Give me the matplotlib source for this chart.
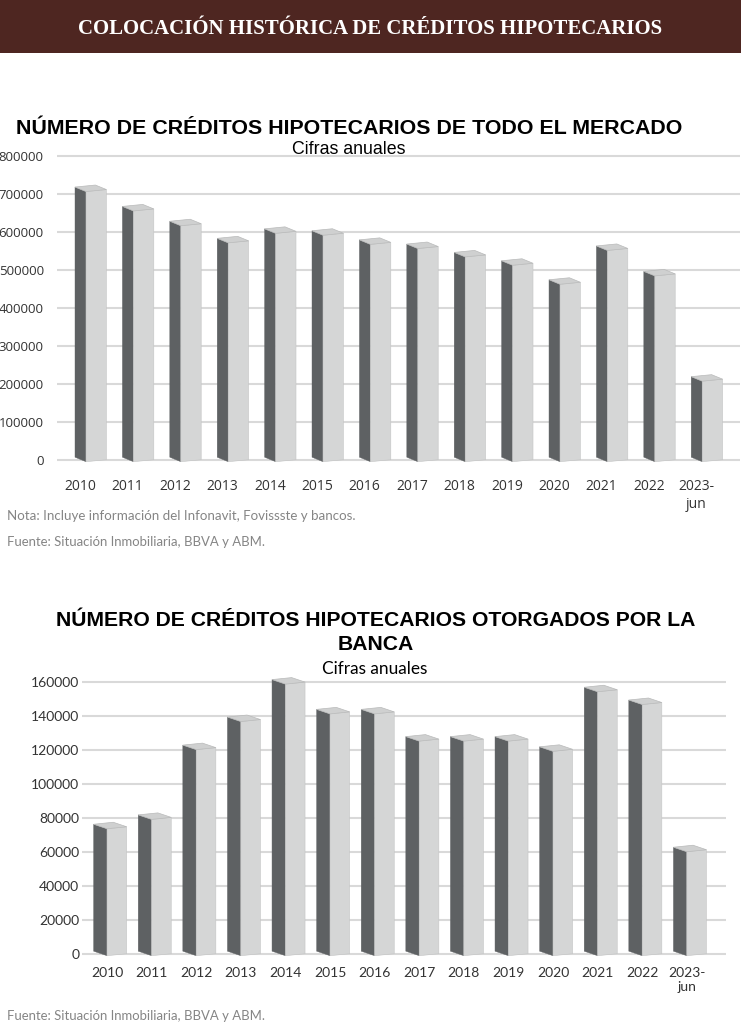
import matplotlib
matplotlib.use("Agg")
import matplotlib.pyplot as plt
from matplotlib.patches import Polygon, Rectangle

# ---------------- data ----------------
years = ["2010", "2011", "2012", "2013", "2014", "2015", "2016", "2017",
         "2018", "2019", "2020", "2021", "2022", "2023-\njun"]
mercado = [715000, 664000, 625000, 580000, 605000, 600000, 576000,
           565000, 543000, 521000, 471000, 560000, 493000, 216000]
banca = [75500, 81000, 122000, 138500, 160500, 143000, 143000,
         127000, 127000, 127000, 121000, 156000, 148500, 62000]
mercado_ticks = [0, 100000, 200000, 300000, 400000, 500000, 600000, 700000, 800000]
banca_ticks = [0, 20000, 40000, 60000, 80000, 100000, 120000, 140000, 160000]

title_main = "COLOCACIÓN HISTÓRICA DE CRÉDITOS HIPOTECARIOS"
title_1 = "NÚMERO DE CRÉDITOS HIPOTECARIOS DE TODO EL MERCADO"
title_2a = "NÚMERO DE CRÉDITOS HIPOTECARIOS OTORGADOS POR LA"
title_2b = "BANCA"
subtitle = "Cifras anuales"
nota = "Nota: Incluye información del Infonavit, Fovissste y bancos."
fuente = "Fuente: Situación Inmobiliaria, BBVA y ABM."

DARK = "#5e6163"
LIGHT = "#d5d6d6"
TOPC = "#cfd0d0"
GRID = "#d9d9d9"
BROWN = "#4e2621"
NOTE = "#858585"

W, H = 741, 1024
fig = plt.figure(figsize=(W / 100, H / 100), dpi=100)
renderer = fig.canvas.get_renderer()


def ax_px(left, top, right, bottom):
    return fig.add_axes([left / W, 1 - bottom / H, (right - left) / W, (bottom - top) / H])


def fit(t, width_px):
    w = t.get_window_extent(renderer).width
    t.set_fontsize(t.get_fontsize() * width_px / w)
    return t


def draw_box(ax, xj, v, wd, wl, ppu, rl=4.5, rr=2.0, bj=1.7):
    u = 1.0 / ppu
    jt = v - (rl + rr) / 2 * u
    jb = -bj * u
    lt, rt, bt = jt + rl * u, jt + rr * u, jt + (rl + rr) * u
    lb, rb = jb + rl * u, jb + rr * u
    ax.add_patch(Polygon([(xj - wd, lb), (xj, jb), (xj, jt), (xj - wd, lt)],
                         closed=True, fc=DARK, ec=DARK, lw=0.3, zorder=3))
    ax.add_patch(Polygon([(xj, jb), (xj + wl, rb), (xj + wl, rt), (xj, jt)],
                         closed=True, fc=LIGHT, ec="#c4c5c5", lw=0.4, zorder=3))
    ax.add_patch(Polygon([(xj - wd, lt), (xj, jt), (xj + wl, rt), (xj - wd + wl, bt)],
                         closed=True, fc=TOPC, ec="#b9baba", lw=0.5, zorder=4))


def style(ax, ticks, fam, fs, pad_y, pad_x):
    for s in ax.spines.values():
        s.set_visible(False)
    ax.set_yticks(ticks, labels=[str(t) for t in ticks])
    ax.grid(axis="y", color=GRID, lw=1.5)
    ax.set_axisbelow(True)
    ax.tick_params(axis="y", length=0, pad=pad_y, labelsize=fs, labelcolor="#333333")
    ax.tick_params(axis="x", length=0, pad=pad_x, labelsize=fs, labelcolor="#333333")
    for lab in ax.get_yticklabels() + ax.get_xticklabels():
        lab.set_fontfamily(fam)


# ---------------- banner ----------------
fig.add_artist(Rectangle((0, 1 - 53 / H), 1, 53 / H, transform=fig.transFigure,
                         fc=BROWN, ec="none"))
t = fig.text(370 / W, 1 - 29 / H, title_main, color="white", ha="center", va="center",
             fontfamily="Liberation Serif", fontweight="bold", fontsize=14)
fit(t, 584)

# ---------------- chart 1 ----------------
ppu1 = 304 / 800000
ax1 = ax_px(57, 156 - 20000 * ppu1, 740, 460 + 40000 * ppu1)
ax1.set_xlim(-0.612, 13.797)
ax1.set_ylim(-40000, 820000)
for i, v in enumerate(mercado):
    draw_box(ax1, i, v, 0.232, 0.43, ppu1)
ax1.set_xticks([i - 0.12 for i in range(len(years))], labels=years)
style(ax1, mercado_ticks, "Open Sans", 9.5, 9.5, 3)
for lab in ax1.get_xticklabels():
    lab.set_fontsize(10)

t = fig.text(349 / W, 1 - 128 / H, title_1, ha="center", va="center",
             fontfamily="Liberation Sans", fontweight="bold", fontsize=15, color="black")
fit(t, 668)
t = fig.text(349 / W, 1 - 150 / H, subtitle, ha="center", va="center",
             fontfamily="Liberation Sans", fontsize=12, color="black")
fit(t, 114)

t = fig.text(7 / W, 1 - 516 / H, nota, ha="left", va="center",
             fontfamily="Lato", fontsize=9, color=NOTE)
fit(t, 350)
t = fig.text(7 / W, 1 - 542 / H, fuente, ha="left", va="center",
             fontfamily="Lato", fontsize=9, color=NOTE)
fit(t, 260)

# ---------------- chart 2 ----------------
ppu2 = (954 - 681.7) / 160000
ax2 = ax_px(82, 681.7 - 10000 * ppu2, 726, 954 + 5000 * ppu2)
ax2.set_xlim(-0.561, 13.879)
ax2.set_ylim(-5000, 170000)
for i, v in enumerate(banca):
    draw_box(ax2, i, v, 0.30, 0.44, ppu2)
ax2.set_xticks(list(range(len(years))), labels=years)
style(ax2, banca_ticks, "Lato", 10, 2, 3)

t1 = fig.text(376 / W, 1 - 620 / H, title_2a, ha="center", va="center",
              fontfamily="Liberation Sans", fontweight="bold", fontsize=15, color="black")
fit(t1, 642)
fig.text(376 / W, 1 - 645 / H, title_2b, ha="center", va="center",
         fontfamily="Liberation Sans", fontweight="bold", fontsize=t1.get_fontsize(),
         color="black")
t = fig.text(375 / W, 1 - 669 / H, subtitle, ha="center", va="center",
             fontfamily="Lato", fontsize=12, color="black")
fit(t, 105)

t = fig.text(7 / W, 1 - 1016 / H, fuente, ha="left", va="center",
             fontfamily="Lato", fontsize=9, color=NOTE)
fit(t, 260)

fig.savefig("out.png", dpi=100)
